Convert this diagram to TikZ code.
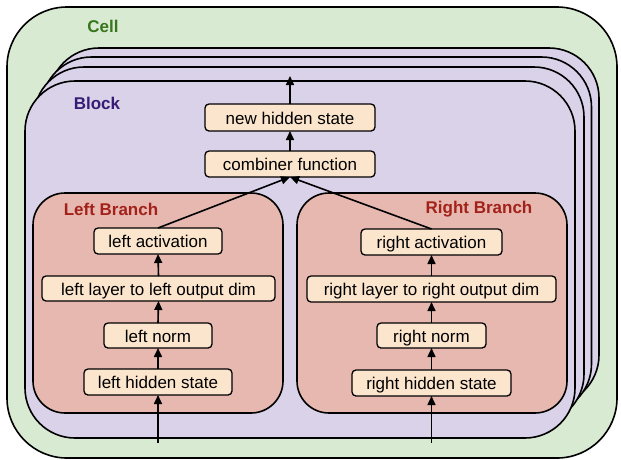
\documentclass[tikz,border=0pt]{standalone}
\usepackage{fontspec}
\setmainfont{Liberation Sans}
\usetikzlibrary{arrows.meta}
\definecolor{cellfill}{HTML}{D9EAD3}
\definecolor{blockfill}{HTML}{D9D2E9}
\definecolor{branchfill}{HTML}{E6B8AF}
\definecolor{boxfill}{HTML}{FCE5CD}
\definecolor{celltext}{HTML}{38761D}
\definecolor{blocktext}{HTML}{351C75}
\definecolor{branchtext}{HTML}{A2221B}
\tikzset{
  container/.style={draw=black, line width=1.6pt, inner sep=0pt, outer sep=0pt},
  blockshape/.style={container, fill=blockfill, rounded corners=50pt, minimum width=550pt, minimum height=357pt},
  opbox/.style={draw=black, line width=1.3pt, fill=boxfill, rounded corners=4pt,
    inner sep=0pt, outer sep=0pt, text height=13pt, text depth=0pt,
    font=\fontsize{17}{20}\selectfont},
  grouplabel/.style={inner sep=0pt, text height=13pt, text depth=0pt,
    font=\fontsize{17}{20}\selectfont\bfseries},
  flow/.style={line width=1.6pt, -{Triangle[length=9pt,width=8pt]}}
}
\begin{document}
\begin{tikzpicture}[x=1pt,y=-1pt]
\useasboundingbox (0,0) rectangle (621,459);
% cell
\node[container, fill=cellfill, rounded corners=60pt, minimum width=610pt, minimum height=451pt] (cell) at (312,232.5) {};
\node[grouplabel, text=celltext] (celllabel) at (103,26) {Cell};
% stacked blocks
\node[blockshape] (back3) at (324,226.5) {};
\node[blockshape] (back2) at (316.5,235.5) {};
\node[blockshape] (back1) at (309,245.5) {};
\node[blockshape] (block) at (300,259.5) {};
\node[grouplabel, text=blocktext] (blocklabel) at (97,103) {Block};
% branches
\node[container, fill=branchfill, rounded corners=32pt, minimum width=250pt, minimum height=220pt] (lbranch) at (158,303) {};
\node[container, fill=branchfill, rounded corners=32pt, minimum width=270pt, minimum height=220pt] (rbranch) at (432,303) {};
\node[grouplabel, text=branchtext] (lblabel) at (111,209) {Left Branch};
\node[grouplabel, text=branchtext] (rblabel) at (479,207) {Right Branch};
% top boxes
\node[opbox, minimum width=170pt, minimum height=27pt] (newh) at (290,117.5) {new hidden state};
\node[opbox, minimum width=170pt, minimum height=26pt] (comb) at (290,164) {combiner function};
% left boxes
\node[opbox, minimum width=128pt, minimum height=26pt] (lact) at (158,241) {left activation};
\node[opbox, minimum width=233pt, minimum height=25pt] (llayer) at (158.5,288.5) {left layer to left output dim};
\node[opbox, minimum width=108pt, minimum height=25pt] (lnorm) at (158,335.5) {left norm};
\node[opbox, minimum width=148pt, minimum height=26pt] (lhid) at (158,382) {left hidden state};
% right boxes
\node[opbox, minimum width=141pt, minimum height=26pt] (ract) at (431.5,242) {right activation};
\node[opbox, minimum width=249pt, minimum height=26pt] (rlayer) at (431.5,289) {right layer to right output dim};
\node[opbox, minimum width=109pt, minimum height=25pt] (rnorm) at (431.5,335.5) {right norm};
\node[opbox, minimum width=159pt, minimum height=26pt] (rhid) at (431.5,383) {right hidden state};
% free ends
\coordinate (lin) at (158,443);
\coordinate (rin) at (431.5,443);
\coordinate (out) at (290,76);
% arrows
\draw[flow] (lin) -- (lhid.south);
\draw[flow] (lhid.north) -- (lnorm.south);
\draw[flow] (lnorm.north) -- (llayer.south);
\draw[flow] (llayer.north) -- (lact.south);
\draw[flow] (rin) -- (rhid.south);
\draw[flow] (rhid.north) -- (rnorm.south);
\draw[flow] (rnorm.north) -- (rlayer.south);
\draw[flow] (rlayer.north) -- (ract.south);
\draw[flow] (lact.north) -- (comb.south);
\draw[flow] (ract.north) -- (comb.south);
\draw[flow] (comb.north) -- (newh.south);
\draw[flow] (newh.north) -- (out);
\end{tikzpicture}
\end{document}
